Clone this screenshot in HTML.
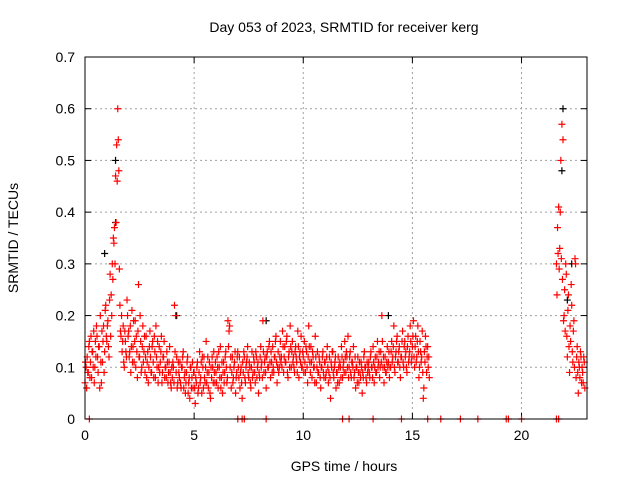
<!DOCTYPE html>
<html><head><meta charset="utf-8"><style>
body{margin:0;background:#fff}
svg{font-family:"Liberation Sans",sans-serif;font-size:14px}
</style></head><body>
<svg id="chart" width="640" height="480" xmlns="http://www.w3.org/2000/svg">
<text x="344" y="32" text-anchor="middle">Day 053 of 2023, SRMTID for receiver kerg</text>
<text transform="translate(18,238) rotate(-90)" text-anchor="middle">SRMTID / TECUs</text>
<text x="344" y="471" text-anchor="middle">GPS time / hours</text>
<g id="grid"></g>
<g id="axes"></g>
<g id="marks"></g>
<rect x="85" y="57" width="502" height="362" fill="none" stroke="#000" stroke-width="1"/>
</svg>
<script>
const xTicks=[0,5,10,15,20];
const yTicks=[0,0.1,0.2,0.3,0.4,0.5,0.6,0.7];
const yTickLabels=["0","0.1","0.2","0.3","0.4","0.5","0.6","0.7"];
const earlyStart=0, secondStart=0.025, lateStart=21.6, lateSecondStart=21.625, sampleStep=0.05;
const earlyValues=[0.07,0.10,0.12,0.09,0.15,0.11,0.08,0.13,0.17,0.10,0.12,0.16,0.09,0.14,0.20,0.07,0.11,0.18,0.13,0.22,
0.15,0.19,0.12,0.28,0.24,0.30,0.35,0.37,0.47,0.53,0.60,0.48,0.22,0.16,0.13,0.18,0.10,0.15,0.12,0.20,
0.17,0.13,0.09,0.21,0.14,0.11,0.19,0.16,0.08,0.26,0.12,0.15,0.10,0.18,0.13,0.09,0.16,0.11,0.07,0.14,
0.12,0.09,0.15,0.08,0.13,0.18,0.10,0.07,0.14,0.11,0.16,0.09,0.12,0.08,0.10,0.13,0.07,0.11,0.09,0.06,
0.08,0.10,0.22,0.20,0.12,0.07,0.09,0.11,0.06,0.10,0.13,0.08,0.05,0.09,0.12,0.07,0.04,0.10,0.08,0.06,
0.09,0.03,0.07,0.11,0.06,0.13,0.08,0.05,0.10,0.12,0.07,0.15,0.09,0.06,0.11,0.04,0.08,0.10,0.13,0.07,
0.09,0.12,0.06,0.10,0.14,0.08,0.05,0.11,0.09,0.13,0.07,0.19,0.17,0.10,0.06,0.12,0.08,0.11,0.05,0.09,
0.13,0.08,0.06,0.10,0.04,0.09,0.12,0.07,0.11,0.14,0.08,0.10,0.06,0.13,0.09,0.11,0.07,0.12,0.10,0.05,
0.08,0.14,0.11,0.19,0.09,0.12,0.06,0.13,0.10,0.15,0.08,0.11,0.14,0.09,0.12,0.16,0.07,0.13,0.10,0.15,
0.12,0.17,0.09,0.14,0.11,0.16,0.08,0.13,0.18,0.10,0.15,0.12,0.09,0.14,0.11,0.17,0.08,0.13,0.16,0.10,
0.12,0.15,0.09,0.13,0.07,0.18,0.11,0.14,0.08,0.12,0.10,0.16,0.07,0.13,0.09,0.11,0.06,0.10,0.13,0.08,
0.11,0.09,0.14,0.07,0.12,0.04,0.10,0.13,0.08,0.11,0.06,0.09,0.12,0.07,0.10,0.14,0.08,0.11,0.15,0.09,
0.12,0.16,0.10,0.13,0.08,0.11,0.14,0.09,0.06,0.10,0.12,0.07,0.09,0.11,0.05,0.08,0.13,0.10,0.07,0.09,
0.11,0.08,0.13,0.10,0.14,0.07,0.12,0.09,0.15,0.11,0.08,0.13,0.20,0.10,0.07,0.12,0.09,0.14,0.11,0.08,
0.10,0.15,0.12,0.18,0.09,0.13,0.16,0.11,0.14,0.08,0.12,0.17,0.10,0.15,0.13,0.09,0.16,0.12,0.18,0.11,
0.14,0.19,0.10,0.16,0.12,0.18,0.08,0.15,0.11,0.17,0.04,0.13,0.16,0.09,0.14,0.12];
const secondValues=[0.11,0.06,0.09,0.14,0.08,0.16,0.13,0.10,0.07,0.15,0.18,0.12,0.14,0.06,0.11,0.17,0.15,0.09,0.21,0.16,
0.18,0.14,0.23,0.16,0.20,0.27,0.34,0.30,0.38,0.46,0.54,0.29,0.17,0.20,0.15,0.11,0.17,0.13,0.23,0.16,
0.12,0.18,0.14,0.11,0.19,0.15,0.10,0.13,0.17,0.12,0.20,0.09,0.14,0.11,0.16,0.12,0.08,0.13,0.10,0.17,
0.09,0.14,0.11,0.16,0.08,0.12,0.15,0.10,0.09,0.13,0.07,0.12,0.15,0.10,0.08,0.11,0.09,0.14,0.07,0.10,
0.11,0.07,0.13,0.09,0.06,0.11,0.08,0.07,0.10,0.12,0.06,0.09,0.07,0.11,0.05,0.08,0.10,0.06,0.11,0.09,
0.06,0.08,0.10,0.05,0.09,0.07,0.11,0.12,0.06,0.08,0.10,0.07,0.12,0.09,0.05,0.10,0.12,0.07,0.09,0.11,
0.07,0.10,0.13,0.08,0.06,0.11,0.09,0.07,0.12,0.10,0.08,0.14,0.18,0.12,0.09,0.07,0.10,0.13,0.08,0.12,
0.10,0.12,0.09,0.07,0.11,0.13,0.08,0.10,0.12,0.09,0.11,0.07,0.10,0.08,0.12,0.09,0.13,0.08,0.11,0.09,
0.12,0.10,0.08,0.13,0.11,0.09,0.12,0.10,0.14,0.11,0.13,0.09,0.10,0.12,0.15,0.11,0.10,0.09,0.12,0.11,
0.10,0.14,0.12,0.11,0.15,0.09,0.12,0.10,0.14,0.13,0.11,0.10,0.13,0.12,0.09,0.14,0.12,0.11,0.10,0.13,
0.09,0.11,0.14,0.10,0.12,0.14,0.09,0.11,0.13,0.10,0.07,0.12,0.10,0.09,0.12,0.08,0.10,0.12,0.09,0.11,
0.08,0.12,0.10,0.09,0.08,0.11,0.13,0.09,0.10,0.12,0.09,0.07,0.10,0.11,0.08,0.12,0.10,0.09,0.12,0.13,
0.10,0.08,0.12,0.09,0.11,0.10,0.08,0.12,0.10,0.07,0.09,0.11,0.08,0.10,0.09,0.12,0.10,0.08,0.11,0.10,
0.09,0.12,0.10,0.08,0.11,0.10,0.09,0.12,0.10,0.13,0.10,0.11,0.15,0.12,0.10,0.09,0.11,0.10,0.13,0.10,
0.13,0.11,0.14,0.10,0.12,0.15,0.11,0.13,0.10,0.12,0.15,0.11,0.14,0.12,0.10,0.14,0.11,0.13,0.15,0.12,
0.16,0.12,0.14,0.11,0.15,0.13,0.10,0.13,0.12,0.09,0.06,0.11,0.14,0.12,0.10,0.08];
const lateValues=[0.30,0.37,0.41,0.33,0.50,0.57,0.54,0.20,0.17,0.28,0.12,0.24,0.09,0.15,0.22,0.11,0.19,0.31,0.08,0.14,0.05,0.10,0.13,0.07,0.09,0.12,0.06];
const lateSecondValues=[0.24,0.32,0.29,0.40,0.31,0.27,0.19,0.25,0.30,0.16,0.21,0.14,0.18,0.26,0.13,0.17,0.10,0.30,0.12,0.09,0.11,0.08,0.12,0.10,0.07,0.11];
const blackTimes=[0.9,1.4,1.4,4.2,8.3,13.9,21.9,21.85,22.1,22.3];
const blackValues=[0.32,0.38,0.50,0.20,0.19,0.20,0.60,0.48,0.23,0.30];
const zeroTimes=[0.2,7.0,7.2,7.3,8.3,11.8,12.1,13.2,14.5,15.7,16.3,17.2,18.0,19.3,19.4,20.0,21.6,21.7];

const X0=85,X1=587,Y0=419,Y1=57,XMAX=23,YMAX=0.7;
const xs=t=>X0+(X1-X0)*t/XMAX;
const ys=v=>Y0-(Y0-Y1)*v/YMAX;
const NS="http://www.w3.org/2000/svg";
const grid=document.getElementById('grid'),axes=document.getElementById('axes'),marks=document.getElementById('marks');
function mk(tag,attrs,parent){const e=document.createElementNS(NS,tag);for(const k in attrs)e.setAttribute(k,attrs[k]);parent.appendChild(e);return e;}
xTicks.forEach(t=>{
  const x=xs(t);
  if(t>0){const g=mk('line',{x1:x,x2:x,y1:Y1,y2:Y0,stroke:'#a0a0a0','stroke-dasharray':'2,3'},grid);
  
  }
  mk('line',{x1:x,x2:x,y1:Y0,y2:Y0-6,stroke:'#000'},axes);
  mk('line',{x1:x,x2:x,y1:Y1,y2:Y1+6,stroke:'#000'},axes);
  const l=mk('text',{x:x,y:Y0+21,'text-anchor':'middle'},axes);l.textContent=t;
  
  
});
yTicks.forEach((v,i)=>{
  const y=ys(v);
  if(v>0&&v<YMAX){const g=mk('line',{x1:X0,x2:X1,y1:y,y2:y,stroke:'#a0a0a0','stroke-dasharray':'2,3'},grid);
  
  }
  mk('line',{x1:X0,x2:X0+6,y1:y,y2:y,stroke:'#000'},axes);
  mk('line',{x1:X1,x2:X1-6,y1:y,y2:y,stroke:'#000'},axes);
  const l=mk('text',{x:X0-10,y:y+5,'text-anchor':'end'},axes);l.textContent=yTickLabels[i];
  
  
});
function plus(t,v,col,name){
  const x=xs(t),y=ys(v);
  const p=mk('path',{d:`M${x-3.5},${y}h7M${x},${y-3.5}v7`,stroke:col,'stroke-width':1.2,fill:'none'},marks);
  
  
}
blackValues.forEach((v,i)=>plus(blackTimes[i],v,'#000','black-point'));
earlyValues.forEach((v,i)=>plus(earlyStart+i*sampleStep,v,'#f00','red-point'));
secondValues.forEach((v,i)=>plus(secondStart+i*sampleStep,v,'#f00','red-point'));
lateValues.forEach((v,i)=>plus(lateStart+i*sampleStep,v,'#f00','red-point'));
lateSecondValues.forEach((v,i)=>plus(lateSecondStart+i*sampleStep,v,'#f00','red-point'));
zeroTimes.forEach(t=>plus(t,0,'#f00','zero-point'));
</script>
</body></html>
